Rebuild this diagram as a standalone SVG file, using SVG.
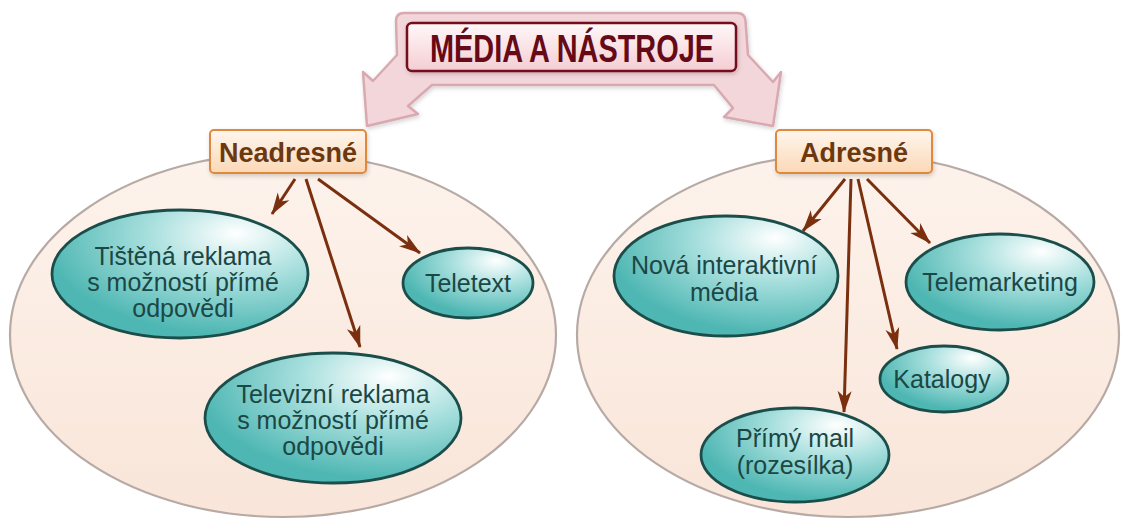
<svg xmlns="http://www.w3.org/2000/svg" width="1121" height="524" viewBox="0 0 1121 524">
<defs>
<style>
.grp{fill:url(#grpFill);stroke:#b7aaa4;stroke-width:2.2}
.node{fill:url(#nodeFill);stroke:#1b4e4a;stroke-width:2.8}
.ntext{font-family:"Liberation Sans",Arial,sans-serif;font-size:25px;fill:#1b4745;text-anchor:middle}
.cat{fill:url(#catFill);stroke:#e0893e;stroke-width:2}
.ctext{font-family:"Liberation Sans",Arial,sans-serif;font-size:27px;font-weight:bold;fill:#6b3810;text-anchor:middle}
.conn{stroke:#7a2f0e;stroke-width:3;fill:none;marker-end:url(#ah)}
</style>
<linearGradient id="grpFill" x1="0" y1="0" x2="0" y2="1">
<stop offset="0" stop-color="#fdf3ec"/>
<stop offset="1" stop-color="#f9e5d9"/>
</linearGradient>
<radialGradient id="nodeFill" cx="0.72" cy="0.22" r="0.75" fx="0.72" fy="0.18">
<stop offset="0" stop-color="#ffffff"/>
<stop offset="0.45" stop-color="#a9e0de"/>
<stop offset="1" stop-color="#4fb7b3"/>
</radialGradient>
<linearGradient id="catFill" x1="0" y1="0" x2="0" y2="1">
<stop offset="0" stop-color="#fff6ee"/>
<stop offset="1" stop-color="#fbd8b6"/>
</linearGradient>
<linearGradient id="titleFill" x1="0" y1="0" x2="0" y2="1">
<stop offset="0" stop-color="#fff8f8"/>
<stop offset="1" stop-color="#f5cdd3"/>
</linearGradient>
<filter id="sh" x="-10%" y="-10%" width="130%" height="140%">
<feDropShadow dx="1" dy="2" stdDeviation="2" flood-color="#000" flood-opacity="0.18"/>
</filter>
<marker id="ah" markerUnits="userSpaceOnUse" viewBox="0 0 22 16" markerWidth="22" markerHeight="16" refX="21" refY="8" orient="auto">
<path d="M0,1 L22,8 L0,15 L6,8 z" fill="#7a2f0e"/>
</marker>
</defs>

<g id="group-left">
<ellipse class="grp" cx="283" cy="335" rx="273" ry="182"/>
</g>
<g id="group-right">
<ellipse class="grp" cx="848" cy="335" rx="271" ry="182"/>
</g>

<g id="title">
<path d="M404,13 L737,13 Q745,13 745.5,21 L748,55 L773,82 L781,72 L773,126 L724,117 L733,108 L714,85 L432,85 L408,106 L418,114 L367,126 L363,72 L373,81 L397,55 L396,21 Q396,13 404,13 Z" fill="#f5d2d7" fill-opacity="0.85" stroke="#d8a9b0" stroke-width="2.5" stroke-linejoin="round" filter="url(#sh)"/>
<rect x="407" y="23" width="329" height="48" rx="5" fill="url(#titleFill)" stroke="#75101e" stroke-width="2.5" filter="url(#sh)"/>
<text x="572" y="62" font-family="'Liberation Sans',Arial,sans-serif" font-size="38" font-weight="bold" fill="#650a16" text-anchor="middle" textLength="284" lengthAdjust="spacingAndGlyphs">MÉDIA A NÁSTROJE</text>
</g>

<g id="connectors">
<line class="conn" x1="295" y1="179" x2="272" y2="214"/>
<line class="conn" x1="306" y1="179" x2="360" y2="347"/>
<line class="conn" x1="318" y1="179" x2="420" y2="253"/>
<line class="conn" x1="845" y1="179" x2="803" y2="231"/>
<line class="conn" x1="851" y1="179" x2="844" y2="412"/>
<line class="conn" x1="858" y1="179" x2="897" y2="349"/>
<line class="conn" x1="867" y1="179" x2="930" y2="243"/>
</g>

<g id="neadresne">
<rect class="cat" x="210" y="130" width="156" height="43" rx="4" filter="url(#sh)"/>
<text class="ctext" x="288" y="162">Neadresné</text>
</g>
<g id="adresne">
<rect class="cat" x="776" y="130" width="156" height="43" rx="4" filter="url(#sh)"/>
<text class="ctext" x="854" y="162">Adresné</text>
</g>

<g id="tistena">
<ellipse class="node" cx="180" cy="274" rx="128" ry="64"/>
<text class="ntext" x="183" y="265">Tištěná reklama</text>
<text class="ntext" x="183" y="291">s možností přímé</text>
<text class="ntext" x="183" y="317">odpovědi</text>
</g>
<g id="teletext">
<ellipse class="node" cx="468" cy="283" rx="65" ry="35"/>
<text class="ntext" x="468" y="292">Teletext</text>
</g>
<g id="televizni">
<ellipse class="node" cx="333" cy="418" rx="128" ry="65"/>
<text class="ntext" x="333" y="403">Televizní reklama</text>
<text class="ntext" x="333" y="429">s možností přímé</text>
<text class="ntext" x="333" y="455">odpovědi</text>
</g>

<g id="nova">
<ellipse class="node" cx="726" cy="276" rx="112" ry="60"/>
<text class="ntext" x="724" y="274">Nová interaktivní</text>
<text class="ntext" x="724" y="301">média</text>
</g>
<g id="telemarketing">
<ellipse class="node" cx="1000" cy="282" rx="94" ry="48"/>
<text class="ntext" x="1000" y="291">Telemarketing</text>
</g>
<g id="katalogy">
<ellipse class="node" cx="944" cy="379" rx="64" ry="33"/>
<text class="ntext" x="942" y="388">Katalogy</text>
</g>
<g id="primy">
<ellipse class="node" cx="795" cy="455" rx="94" ry="47"/>
<text class="ntext" x="795" y="447">Přímý mail</text>
<text class="ntext" x="795" y="474">(rozesílka)</text>
</g>
</svg>
